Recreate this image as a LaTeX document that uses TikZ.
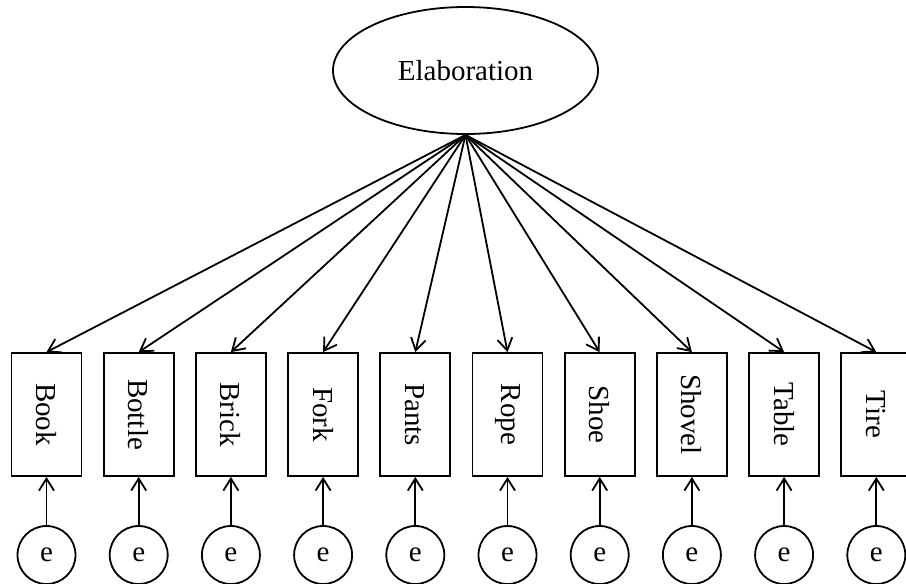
\documentclass[tikz,border=0pt]{standalone}
\usepackage{fontspec}
\setmainfont{Liberation Serif}
\usetikzlibrary{arrows.meta,shapes.geometric}
\begin{document}
\begin{tikzpicture}[x=0.5pt,y=-0.5pt,line width=0.9pt,
  lat/.style={ellipse,draw,minimum width=132.5pt,minimum height=63.5pt,inner sep=0pt,font=\fontsize{14.5}{17}\selectfont},
  obs/.style={rectangle,draw,minimum width=35pt,minimum height=61.5pt,inner sep=0pt,font=\fontsize{14.5}{17}\selectfont},
  err/.style={circle,draw,minimum size=29pt,inner sep=0pt,font=\fontsize{14.5}{17}\selectfont},
  arr/.style={-{Straight Barb[length=6pt,width=7.5pt]}}]
\path[use as bounding box] (0,0) rectangle (906,584);
\clip (0,0) rectangle (906,584);
\node[lat] (L) at (465.5,70.5) {Elaboration};
\foreach \name [count=\i] in {Book,Bottle,Brick,Fork,Pants,Rope,Shoe,Shovel,Table,Tire}{
  \pgfmathsetmacro{\xx}{46.5+92.2*(\i-1)}
  \node[obs] (b\i) at (\xx,414.5) {\rotatebox{-90}{\name}};
  \node[err] (e\i) at (\xx,555) {e};
  \draw[arr] (L.south) -- (b\i.north);
  \draw[arr] (e\i) -- (b\i);
}
\end{tikzpicture}
\end{document}
